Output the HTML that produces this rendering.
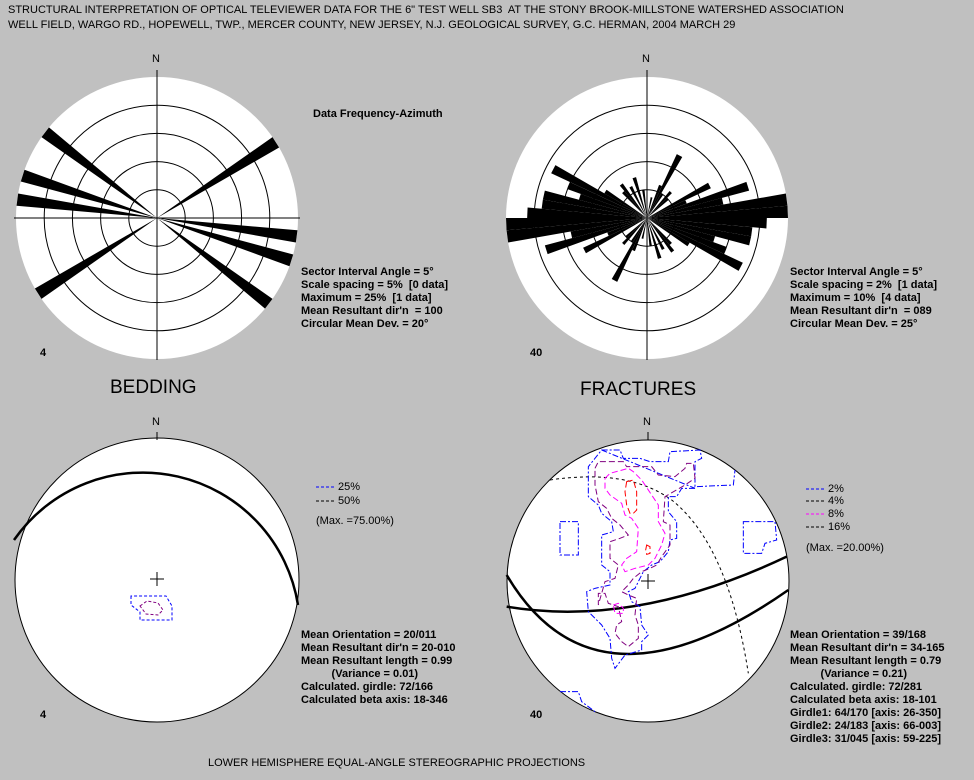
<!DOCTYPE html>
<html><head><meta charset="utf-8"><style>
html,body{margin:0;padding:0;background:#c0c0c0;}
body{width:974px;height:780px;position:relative;overflow:hidden;font-family:"Liberation Sans",sans-serif;}
.t{position:absolute;font-size:11px;line-height:13px;color:#000;white-space:pre;}
.b{font-weight:bold;font-size:11px;}
svg{position:absolute;left:0;top:0;}
</style></head><body>
<svg id="s" width="974" height="780" xmlns="http://www.w3.org/2000/svg">
<g fill="#fff">
<circle cx="157" cy="218" r="141"/>
<circle cx="647" cy="218" r="141"/>
</g>
<g stroke="#000" fill="#fff">
<circle cx="157" cy="580" r="142"/>
<circle cx="648" cy="581" r="141"/>
</g>
<g id="rings" fill="none" stroke="#000" stroke-width="1"></g>
<g id="petals" fill="#000"></g>
<g stroke="#000" stroke-width="1">
<line x1="157" y1="70" x2="157" y2="360"/><line x1="14" y1="218" x2="300" y2="218"/>
<line x1="647" y1="70" x2="647" y2="360"/>
<line x1="157" y1="432" x2="157" y2="440"/><line x1="648" y1="432" x2="648" y2="440"/>
<line x1="150" y1="579" x2="164" y2="579"/><line x1="157" y1="572" x2="157" y2="586"/>
<line x1="641" y1="581" x2="655" y2="581"/><line x1="648" y1="574" x2="648" y2="589"/>
</g>
<path d="M14,540 A157,157 0 0 1 298,605" fill="none" stroke="#000" stroke-width="2.5"/>
<path d="M131,596 L131,605 L140,612 L140,620 L172,620 L172,606 L166,596 Z" fill="none" stroke="#00f" stroke-dasharray="3,2"/>
<path d="M140,606 L147,601 L158,603 L163,610 L158,615 L146,614 Z" fill="none" stroke="#800080" stroke-dasharray="3,2"/>
<g transform="translate(495,425) scale(0.33333)" fill="none">
<path vector-effect="non-scaling-stroke" stroke="#000" stroke-width="2.5" d="M35,545 Q420,610 875,395"/>
<path vector-effect="non-scaling-stroke" stroke="#000" stroke-width="2.5" d="M35,450 Q300,900 880,495"/>
<path vector-effect="non-scaling-stroke" stroke="#000" stroke-dasharray="3,3" d="M165,165 Q400,130 530,225 Q700,360 760,745"/>
<path vector-effect="non-scaling-stroke" stroke="#00f" stroke-dasharray="6,2,2,2" d="M320,75 L375,75 L385,100 L435,100 L465,110 L520,110 L525,80 L615,75 L620,100 L600,110 L600,185 L715,180 L720,135 M600,190 L560,190 L545,215 L520,215 L520,260 L545,290 L545,340 L525,345 L520,380 L495,410 L470,420 L445,440 L430,470 L420,490 L400,500 L410,530 L435,545 L440,600 L460,630 L440,650 L440,675 L390,690 L375,710 L360,730 L350,700 L345,640 L320,600 L280,560 L275,500 L300,490 L345,480 L345,440 L320,420 L320,330 L355,320 L350,290 L320,265 L310,240 L280,215 L280,125 L300,100 L320,75 Z M195,290 L250,290 L250,390 L195,390 Z M745,290 L840,290 L845,345 L810,355 L800,385 L745,385 Z M195,800 L250,800 L260,830 L300,860"/>
<path vector-effect="non-scaling-stroke" stroke="#800080" stroke-dasharray="6,3" d="M300,130 L310,110 L385,110 L395,125 L470,125 L490,150 L540,155 L570,130 L575,115 L595,115 L600,160 L570,180 L510,215 L505,290 L525,300 L525,360 L500,395 L485,420 L465,430 L440,440 L415,460 L400,480 L380,500 L400,510 L425,520 L420,570 L430,600 L430,640 L400,665 L380,650 L360,625 L365,600 L380,590 L370,545 L340,535 L330,505 L310,505 L310,540 L330,470 L360,460 L370,420 L345,400 L345,350 L375,340 L400,330 L375,300 L350,280 L335,250 L310,230 L300,180 Z"/>
<path vector-effect="non-scaling-stroke" stroke="#f0f" stroke-dasharray="6,3" d="M330,160 L345,145 L400,130 L415,140 L440,165 L470,210 L490,240 L490,290 L510,325 L500,360 L480,400 L460,420 L420,430 L390,440 L380,420 L395,400 L425,380 L430,310 L410,280 L390,270 L380,235 L345,210 L330,190 Z M355,540 L370,535 L385,550 L385,565 L360,565 Z"/>
<path vector-effect="non-scaling-stroke" stroke="#f00" stroke-dasharray="6,3" d="M395,170 L415,165 L425,200 L425,255 L415,265 L405,265 L395,240 L390,200 Z M455,360 L465,365 L465,385 L455,388 L452,375 Z"/>
</g>
<g stroke-dasharray="3,2">
<line x1="316" y1="487" x2="336" y2="487" stroke="#00f"/>
<line x1="316" y1="501" x2="336" y2="501" stroke="#000"/>
<line x1="806" y1="489" x2="826" y2="489" stroke="#00f"/>
<line x1="806" y1="501" x2="826" y2="501" stroke="#000"/>
<line x1="806" y1="514" x2="826" y2="514" stroke="#f0f"/>
<line x1="806" y1="527" x2="826" y2="527" stroke="#000"/>
</g>
</svg>
<script>
var NS="http://www.w3.org/2000/svg";
var rings=document.getElementById('rings'),pet=document.getElementById('petals');
[[157,218],[647,218]].forEach(function(c){[28.2,56.4,84.6,112.8].forEach(function(r){var e=document.createElementNS(NS,'circle');e.setAttribute('cx',c[0]);e.setAttribute('cy',c[1]);e.setAttribute('r',r);rings.appendChild(e);});});
function wedge(cx,cy,a0,len){var d='';[a0,a0+180].forEach(function(a){var r=len*141,t1=(a)*Math.PI/180,t2=(a+5)*Math.PI/180;d+='M'+cx+','+cy+'L'+(cx+r*Math.sin(t1))+','+(cy-r*Math.cos(t1))+'L'+(cx+r*Math.sin(t2))+','+(cy-r*Math.cos(t2))+'Z';});var p=document.createElementNS(NS,'path');p.setAttribute('d',d);pet.appendChild(p);}
[[55,1],[125,1],[105,1],[95,1]].forEach(function(w){wedge(157,218,w[0],w[1]);});
[[80,1],[85,1],[115,.75],[100,.75],[95,.75],[70,.75],[60,.5],[25,.5],[105,.5],[150,.25],[135,.25],[20,.25],[40,.25],[75,.55],[110,.6],[90,.85],[120,.35],[65,.3],[30,.2],[160,.3],[10,.15],[170,.2],[140,.3],[45,.2]].forEach(function(w){wedge(647,218,w[0],w[1]);});
</script>
<div class="t" style="left:8px;top:4px">STRUCTURAL INTERPRETATION OF OPTICAL TELEVIEWER DATA FOR THE 6" TEST WELL SB3  AT THE STONY BROOK-MILLSTONE WATERSHED ASSOCIATION</div>
<div class="t" style="left:8px;top:19px">WELL FIELD, WARGO RD., HOPEWELL, TWP., MERCER COUNTY, NEW JERSEY, N.J. GEOLOGICAL SURVEY, G.C. HERMAN, 2004 MARCH 29</div>
<div class="t" style="left:152px;top:53px">N</div>
<div class="t" style="left:642px;top:53px">N</div>
<div class="t" style="left:152px;top:416px">N</div>
<div class="t" style="left:643px;top:416px">N</div>
<div class="t b" style="left:313px;top:108px">Data Frequency-Azimuth</div>
<div class="t b" style="left:301px;top:266px">Sector Interval Angle = 5°
Scale spacing = 5%  [0 data]
Maximum = 25%  [1 data]
Mean Resultant dir'n  = 100
Circular Mean Dev. = 20°</div>
<div class="t b" style="left:790px;top:266px">Sector Interval Angle = 5°
Scale spacing = 2%  [1 data]
Maximum = 10%  [4 data]
Mean Resultant dir'n  = 089
Circular Mean Dev. = 25°</div>
<div class="t b" style="left:40px;top:347px">4</div>
<div class="t b" style="left:530px;top:347px">40</div>
<div class="t b" style="left:40px;top:709px">4</div>
<div class="t b" style="left:530px;top:709px">40</div>
<div class="t" style="left:110px;top:377px;font-size:19px;line-height:22px">BEDDING</div>
<div class="t" style="left:580px;top:379px;font-size:19px;line-height:22px">FRACTURES</div>
<div class="t" style="left:338px;top:481px">25%</div>
<div class="t" style="left:338px;top:495px">50%</div>
<div class="t" style="left:316px;top:515px">(Max. =75.00%)</div>
<div class="t" style="left:828px;top:483px">2%</div>
<div class="t" style="left:828px;top:495px">4%</div>
<div class="t" style="left:828px;top:508px">8%</div>
<div class="t" style="left:828px;top:521px">16%</div>
<div class="t" style="left:806px;top:542px">(Max. =20.00%)</div>
<div class="t b" style="left:301px;top:629px">Mean Orientation = 20/011
Mean Resultant dir'n = 20-010
Mean Resultant length = 0.99
          (Variance = 0.01)
Calculated. girdle: 72/166
Calculated beta axis: 18-346</div>
<div class="t b" style="left:790px;top:629px">Mean Orientation = 39/168
Mean Resultant dir'n = 34-165
Mean Resultant length = 0.79
          (Variance = 0.21)
Calculated. girdle: 72/281
Calculated beta axis: 18-101
Girdle1: 64/170 [axis: 26-350]
Girdle2: 24/183 [axis: 66-003]
Girdle3: 31/045 [axis: 59-225]</div>
<div class="t" style="left:208px;top:757px">LOWER HEMISPHERE EQUAL-ANGLE STEREOGRAPHIC PROJECTIONS</div>
</body></html>
